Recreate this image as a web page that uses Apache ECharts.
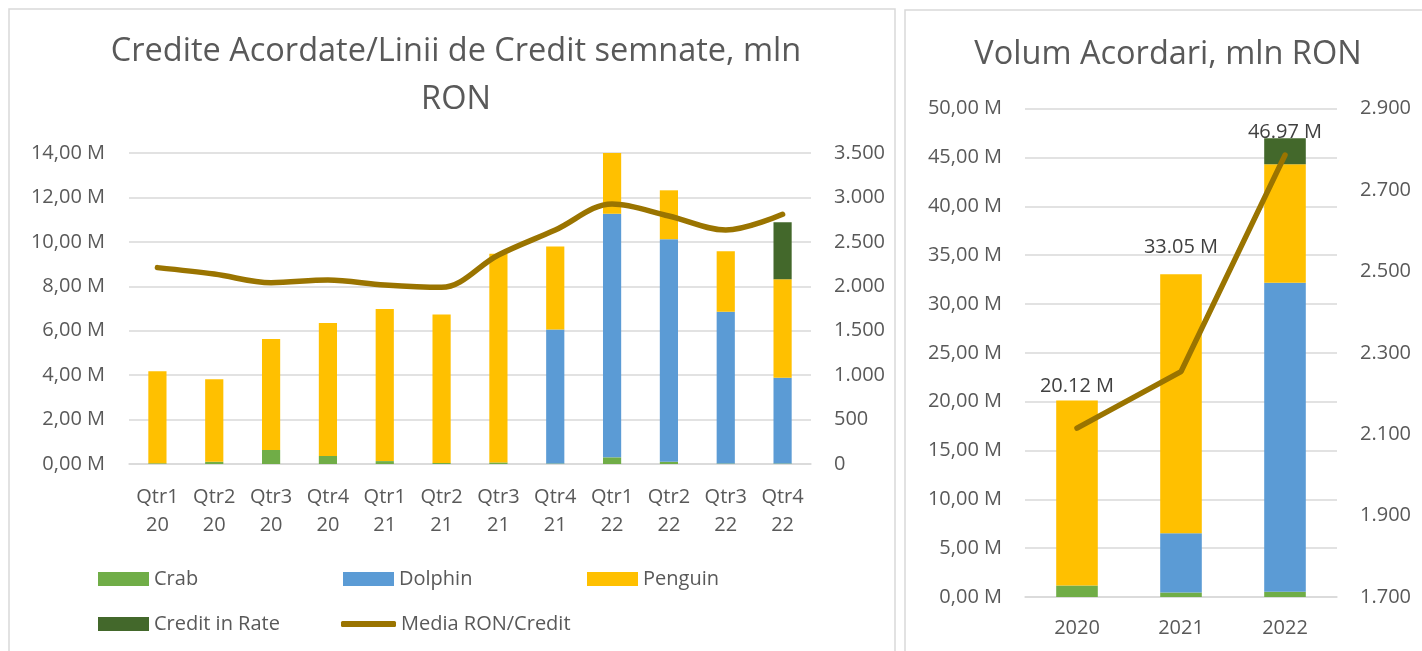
<!DOCTYPE html>
<html>
<head>
<meta charset="utf-8">
<script src="https://cdn.jsdelivr.net/npm/echarts@6/dist/echarts.min.js"></script>
<style>
html,body{margin:0;padding:0;background:#fff;}
#c{width:1422px;height:651px;}
</style>
</head>
<body>
<div id="c"></div>
<script>
// ---- data (values in millions RON; media in RON) ----
const quarters = ['Qtr1 20','Qtr2 20','Qtr3 20','Qtr4 20','Qtr1 21','Qtr2 21','Qtr3 21','Qtr4 21','Qtr1 22','Qtr2 22','Qtr3 22','Qtr4 22'];
const crabQ    = [0.03, 0.10, 0.63, 0.36, 0.13, 0.05, 0.07, 0.02, 0.30, 0.10, 0.02, 0.02];
const dolphinQ = [0, 0, 0, 0, 0, 0, 0, 6.04, 10.97, 10.02, 6.83, 3.86];
const penguinQ = [4.15, 3.72, 5.00, 5.99, 6.85, 6.68, 9.40, 3.73, 2.73, 2.20, 2.73, 4.44];
const creditQ  = [0, 0, 0, 0, 0, 0, 0, 0, 0, 0, 0, 2.56];
const mediaQ   = [2210, 2138, 2040, 2071, 2014, 1988, 2352, 2633, 2926, 2791, 2633, 2810];

const years    = ['2020', '2021', '2022'];
const crabY    = [1.17, 0.45, 0.54];
const dolphinY = [0, 6.07, 31.63];
const penguinY = [18.95, 26.53, 12.13];
const creditY  = [0, 0, 2.67];
const totalsY  = [20.12, 33.05, 46.97];
const mediaY   = [2115, 2254, 2786];

// ---- styling ----
const FONT = 'Open Sans';
const TXT = '#595959';
const GRID = '#d9d9d9';
const C_CRAB = '#70AD47', C_DOL = '#5B9BD5', C_PEN = '#FFC000', C_CRED = '#43682B', C_LINE = '#9A7400';
const totalLabelDistance = [4, 17, -4];

const mFmt = v => v.toFixed(2).replace('.', ',') + ' M';
const thFmt = v => v === 0 ? '0' : (v >= 1000 ? Math.floor(v/1000) + '.' + String(v % 1000).padStart(3, '0') : String(v));

const chart = echarts.init(document.getElementById('c'), null, {renderer: 'canvas'});

function legend(name, left, top, icon, w, h) {
  return {
    data: [name], left: left, top: top, orient: 'horizontal', padding: 0,
    icon: icon, itemWidth: w, itemHeight: h, itemGap: 0,
    textStyle: {fontFamily: FONT, fontSize: 20, color: TXT, lineHeight: 20},
    selectedMode: false
  };
}

const valAxisLabel = {fontFamily: FONT, fontSize: 20, color: TXT};

const option = {
  animation: false,
  textStyle: {fontFamily: FONT},
  graphic: [
    {type: 'rect', shape: {x: 9, y: 9, width: 886, height: 700}, style: {fill: 'none', stroke: GRID, lineWidth: 1.5}, silent: true},
    {type: 'rect', shape: {x: 905, y: 10, width: 540, height: 700}, style: {fill: 'none', stroke: GRID, lineWidth: 1.5}, silent: true}
  ],
  title: [
    {text: 'Credite Acordate/Linii de Credit semnate, mln\nRON', left: 456, top: 28, textAlign: 'center', padding: 0,
     textStyle: {fontFamily: FONT, fontSize: 32.5, fontWeight: 'normal', color: TXT, lineHeight: 48}},
    {text: 'Volum Acordari, mln RON', left: 1168, top: 31, textAlign: 'center', padding: 0,
     textStyle: {fontFamily: FONT, fontSize: 32.5, fontWeight: 'normal', color: TXT, lineHeight: 48}}
  ],
  legend: [
    legend('Crab', 98, 569, 'rect', 51, 14),
    legend('Dolphin', 343, 569, 'rect', 51, 14),
    legend('Penguin', 587, 569, 'rect', 51, 14),
    legend('Credit in Rate', 98, 614, 'rect', 51, 14),
    legend('Media RON/Credit', 341, 614, 'roundRect', 55, 6)
  ],
  grid: [
    {left: 129, right: 611, top: 153, bottom: 187},
    {left: 1025, right: 85, top: 108.7, bottom: 54}
  ],
  xAxis: [
    {type: 'category', gridIndex: 0, data: quarters,
     axisLine: {lineStyle: {color: GRID, width: 1.5}}, axisTick: {show: false},
     axisLabel: {interval: 0, margin: 19, fontFamily: FONT, fontSize: 20, color: TXT, lineHeight: 28,
                 formatter: v => v.split(' ').join('\n')}},
    {type: 'category', gridIndex: 1, data: years,
     axisLine: {lineStyle: {color: GRID, width: 1.5}}, axisTick: {show: false},
     axisLabel: {interval: 0, margin: 17, fontFamily: FONT, fontSize: 20, color: TXT, lineHeight: 28}}
  ],
  yAxis: [
    {type: 'value', gridIndex: 0, min: 0, max: 14, interval: 2, position: 'left',
     axisLine: {show: false}, axisTick: {show: false},
     splitLine: {lineStyle: {color: GRID, width: 1.5}},
     axisLabel: Object.assign({margin: 24, formatter: mFmt}, valAxisLabel)},
    {type: 'value', gridIndex: 0, min: 0, max: 3500, interval: 500, position: 'right',
     axisLine: {show: false}, axisTick: {show: false}, splitLine: {show: false},
     axisLabel: Object.assign({margin: 23, formatter: thFmt}, valAxisLabel)},
    {type: 'value', gridIndex: 1, min: 0, max: 50, interval: 5, position: 'left',
     axisLine: {show: false}, axisTick: {show: false},
     splitLine: {lineStyle: {color: GRID, width: 1.5}},
     axisLabel: Object.assign({margin: 23, formatter: mFmt}, valAxisLabel)},
    {type: 'value', gridIndex: 1, min: 1700, max: 2900, interval: 100, position: 'right',
     axisLine: {show: false}, axisTick: {show: false}, splitLine: {show: false},
     axisLabel: Object.assign({margin: 23, showMinLabel: true, showMaxLabel: true,
       formatter: v => ((v - 1700) % 200 === 0 ? thFmt(v) : '')}, valAxisLabel)}
  ],
  series: [
    {name: 'Crab', type: 'bar', stack: 'q', xAxisIndex: 0, yAxisIndex: 0, data: crabQ, barWidth: '32%', itemStyle: {color: C_CRAB}},
    {name: 'Dolphin', type: 'bar', stack: 'q', xAxisIndex: 0, yAxisIndex: 0, data: dolphinQ, barWidth: '32%', itemStyle: {color: C_DOL}},
    {name: 'Penguin', type: 'bar', stack: 'q', xAxisIndex: 0, yAxisIndex: 0, data: penguinQ, barWidth: '32%', itemStyle: {color: C_PEN}},
    {name: 'Credit in Rate', type: 'bar', stack: 'q', xAxisIndex: 0, yAxisIndex: 0, data: creditQ, barWidth: '32%', itemStyle: {color: C_CRED}},
    {name: 'Media RON/Credit', type: 'line', xAxisIndex: 0, yAxisIndex: 1, data: mediaQ, smooth: 0.35,
     symbol: 'none', lineStyle: {color: C_LINE, width: 5.5, cap: 'round'}, itemStyle: {color: C_LINE}, z: 5},

    {name: 'Crab', type: 'bar', stack: 'y', xAxisIndex: 1, yAxisIndex: 2, data: crabY, barWidth: '40%', itemStyle: {color: C_CRAB}},
    {name: 'Dolphin', type: 'bar', stack: 'y', xAxisIndex: 1, yAxisIndex: 2, data: dolphinY, barWidth: '40%', itemStyle: {color: C_DOL}},
    {name: 'Penguin', type: 'bar', stack: 'y', xAxisIndex: 1, yAxisIndex: 2, data: penguinY, barWidth: '40%', itemStyle: {color: C_PEN}},
    {name: 'Credit in Rate', type: 'bar', stack: 'y', xAxisIndex: 1, yAxisIndex: 2, data: creditY, barWidth: '40%', itemStyle: {color: C_CRED}},
    {name: 'Media RON/Credit', type: 'line', xAxisIndex: 1, yAxisIndex: 3, data: mediaY,
     symbol: 'none', lineStyle: {color: C_LINE, width: 5.5, cap: 'round'}, itemStyle: {color: C_LINE}, z: 5},
    {name: 'Total', type: 'line', xAxisIndex: 1, yAxisIndex: 2,
     data: totalsY.map((v, i) => ({value: v, label: {distance: totalLabelDistance[i]}})),
     symbol: 'circle', symbolSize: 0, showSymbol: true, lineStyle: {opacity: 0, width: 0}, z: 6,
     label: {show: true, position: 'top', fontFamily: FONT, fontSize: 20, color: '#404040',
             formatter: p => p.value.toFixed(2) + ' M'}}
  ]
};
chart.setOption(option);
</script>
</body>
</html>
